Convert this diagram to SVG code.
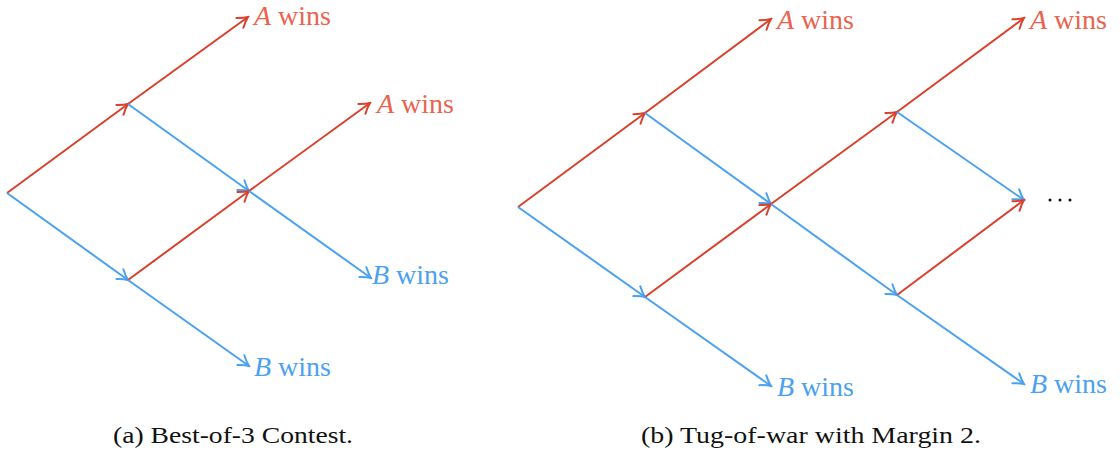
<svg xmlns="http://www.w3.org/2000/svg" width="1120" height="452" viewBox="0 0 1120 452">
<style>
.r{stroke:#d9412c;stroke-width:2;fill:none;marker-end:url(#ar)}
.b{stroke:#4ba1f1;stroke-width:2;fill:none;marker-end:url(#ab)}
.la{fill:#ea634f}
.lb{fill:#4ba1f1}
</style>
<defs>
<marker id="ar" markerUnits="userSpaceOnUse" viewBox="-12 -8 14 16" refX="0" refY="0" markerWidth="14" markerHeight="16" orient="auto">
<path d="M-10,-6 Q-4,-1.5 0,0 Q-4,1.5 -10,6" stroke="#d9412c" stroke-width="2" fill="none" stroke-linecap="round"/>
</marker>
<marker id="ab" markerUnits="userSpaceOnUse" viewBox="-12 -8 14 16" refX="0" refY="0" markerWidth="14" markerHeight="16" orient="auto">
<path d="M-10,-6 Q-4,-1.5 0,0 Q-4,1.5 -10,6" stroke="#4ba1f1" stroke-width="2" fill="none" stroke-linecap="round"/>
</marker>
</defs>
<g id="connectors">
<line class="r" x1="7" y1="193" x2="128" y2="104"/>
<line class="b" x1="7" y1="193" x2="128" y2="280"/>
<line class="r" x1="128" y1="104" x2="248" y2="17"/>
<line class="b" x1="128" y1="104" x2="249" y2="191"/>
<line class="r" x1="128" y1="280" x2="249" y2="191"/>
<line class="b" x1="128" y1="280" x2="249" y2="366"/>
<line class="r" x1="249" y1="191" x2="370" y2="103"/>
<line class="b" x1="249" y1="191" x2="371" y2="278"/>
<line class="r" x1="518" y1="207" x2="645" y2="113"/>
<line class="b" x1="518" y1="207" x2="645" y2="297"/>
<line class="r" x1="645" y1="113" x2="771" y2="19"/>
<line class="b" x1="645" y1="113" x2="771" y2="204"/>
<line class="r" x1="645" y1="297" x2="771" y2="204"/>
<line class="b" x1="645" y1="297" x2="771" y2="386"/>
<line class="r" x1="771" y1="204" x2="897" y2="112"/>
<line class="b" x1="771" y1="204" x2="897" y2="295"/>
<line class="r" x1="897" y1="112" x2="1024" y2="18"/>
<line class="b" x1="897" y1="112" x2="1024" y2="200"/>
<line class="r" x1="897" y1="295" x2="1024" y2="200"/>
<line class="b" x1="897" y1="295" x2="1024" y2="384"/>
</g>
<g id="labels-a" font-family="Liberation Serif, serif" font-size="28">
<text class="la" x="254" y="25"><tspan font-style="italic">A</tspan> wins</text>
<text class="la" x="377" y="113"><tspan font-style="italic">A</tspan> wins</text>
<text class="lb" x="372" y="284"><tspan font-style="italic">B</tspan> wins</text>
<text class="lb" x="254" y="376"><tspan font-style="italic">B</tspan> wins</text>
</g>
<g id="labels-b" font-family="Liberation Serif, serif" font-size="28">
<text class="la" x="777" y="29"><tspan font-style="italic">A</tspan> wins</text>
<text class="la" x="1030" y="29"><tspan font-style="italic">A</tspan> wins</text>
<text class="lb" x="777" y="396"><tspan font-style="italic">B</tspan> wins</text>
<text class="lb" x="1030" y="393"><tspan font-style="italic">B</tspan> wins</text>
<g id="ellipsis" fill="#111">
<circle cx="1050" cy="200" r="1.5"/>
<circle cx="1060" cy="200" r="1.5"/>
<circle cx="1070" cy="200" r="1.5"/>
</g>
</g>
<g id="captions" font-family="Liberation Serif, serif" font-size="23" fill="#111">
<text x="113" y="443" textLength="240" lengthAdjust="spacingAndGlyphs">(a) Best-of-3 Contest.</text>
<text x="641" y="443" textLength="340" lengthAdjust="spacingAndGlyphs">(b) Tug-of-war with Margin 2.</text>
</g>
</svg>
